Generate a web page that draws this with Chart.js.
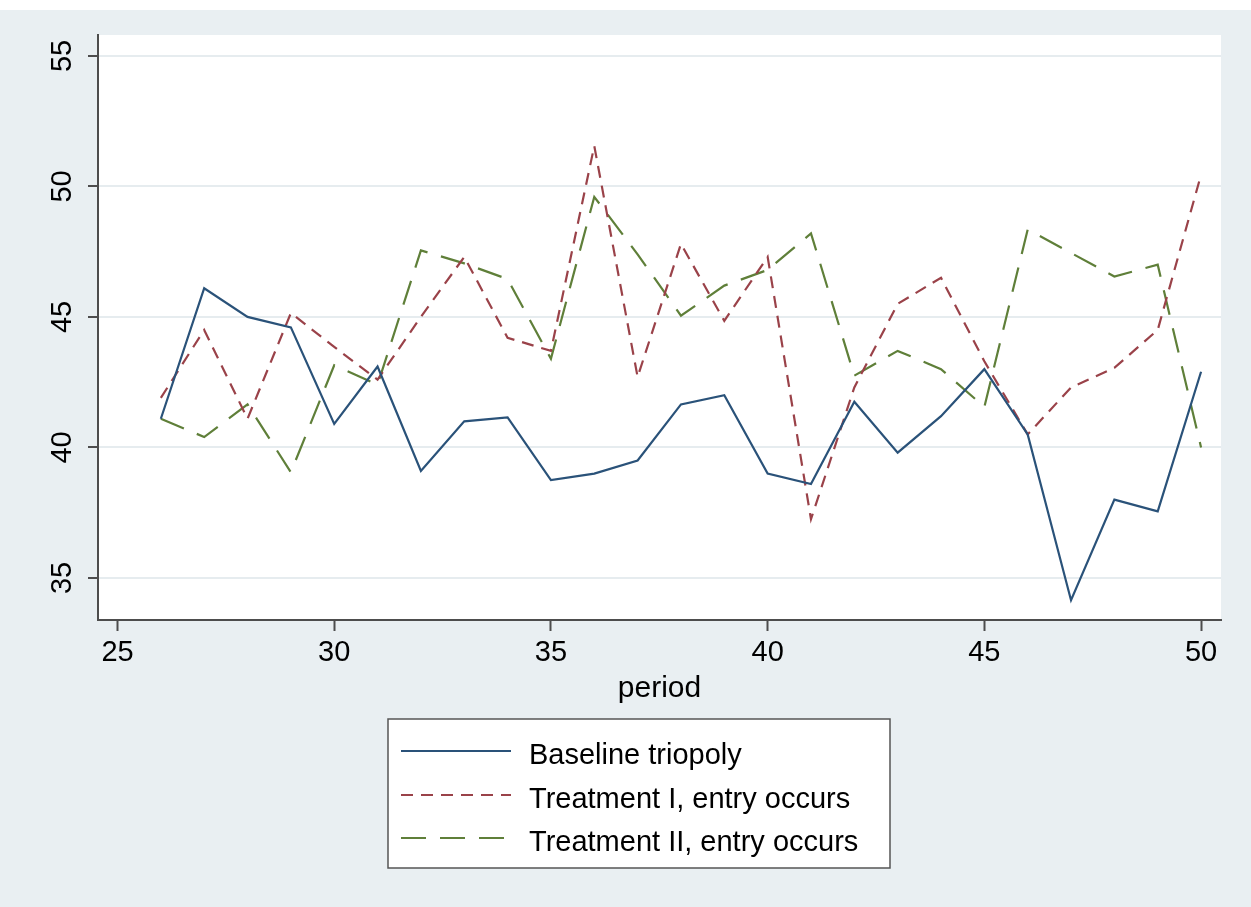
<!DOCTYPE html>
<html>
<head>
<meta charset="utf-8">
<script src="https://cdn.jsdelivr.net/npm/chart.js@4"></script>
<style>
  html, body { margin: 0; padding: 0; background: #ffffff; }
  #wrap { position: absolute; left: 0; top: 10px; width: 1251px; height: 897px; }
  canvas { display: block; }
</style>
</head>
<body>
<div id="wrap"><canvas id="c" width="1251" height="897"></canvas></div>
<script>
const periods = [26,27,28,29,30,31,32,33,34,35,36,37,38,39,40,41,42,43,44,45,46,47,48,49,50];
const baselineTriopoly = [41.1,46.1,45.0,44.6,40.9,43.1,39.1,41.0,41.15,38.75,39.0,39.5,41.65,42.0,39.0,38.6,41.75,39.8,41.2,43.0,40.5,34.15,38.0,37.55,42.9];
const treatmentI = [41.9,44.5,41.1,45.15,43.85,42.6,45.0,47.3,44.2,43.7,51.55,42.7,47.8,44.85,47.3,37.25,42.3,45.5,46.5,43.3,40.5,42.3,43.05,44.5,50.45];
const treatmentII = [41.1,40.4,41.65,39.05,43.15,42.4,47.55,47.05,46.45,43.4,49.6,47.4,45.05,46.2,46.8,48.2,42.75,43.7,43.0,41.55,48.35,47.45,46.55,47.0,40.0];
const seriesLabels = ['Baseline triopoly','Treatment I, entry occurs','Treatment II, entry occurs'];
const xTickValues = [25,30,35,40,45,50];
const yTickValues = [35,40,45,50,55];
const xTitle = 'period';

const FONT = '"Liberation Sans", Arial, Helvetica, sans-serif';
const AXIS_COLOR = '#4d4d4d';
const TEXT_COLOR = '#000000';

function toPoints(arr) { return arr.map((v, i) => ({ x: periods[i], y: v })); }

const bgPlugin = {
  id: 'bg',
  beforeDraw(chart) {
    const { ctx, chartArea: a } = chart;
    ctx.save();
    ctx.fillStyle = '#e9eff2';
    ctx.fillRect(0, 0, chart.width, chart.height);
    ctx.fillStyle = '#ffffff';
    ctx.fillRect(a.left, a.top, a.right - a.left, a.bottom - a.top);
    ctx.restore();
  }
};

const legendPlugin = {
  id: 'boxLegend',
  afterDraw(chart) {
    const ctx = chart.ctx;
    const bx = 388, by = 709, bw = 502, bh = 149;
    ctx.save();
    ctx.fillStyle = '#ffffff';
    ctx.fillRect(bx, by, bw, bh);
    ctx.strokeStyle = '#555555';
    ctx.lineWidth = 1.5;
    ctx.strokeRect(bx, by, bw, bh);
    const baselines = [754, 798, 841];
    chart.data.datasets.forEach((ds, i) => {
      const yb = baselines[i];
      const yl = yb - 13;
      ctx.beginPath();
      ctx.strokeStyle = ds.borderColor;
      ctx.lineWidth = ds.borderWidth;
      ctx.setLineDash(ds.borderDash || []);
      ctx.moveTo(401, yl);
      ctx.lineTo(511, yl);
      ctx.stroke();
      ctx.setLineDash([]);
      ctx.fillStyle = TEXT_COLOR;
      ctx.font = '29px ' + FONT;
      ctx.textBaseline = 'alphabetic';
      ctx.textAlign = 'left';
      ctx.fillText(ds.label, 529, yb);
    });
    ctx.restore();
  }
};

new Chart(document.getElementById('c'), {
  type: 'line',
  data: {
    datasets: [
      { label: seriesLabels[0], data: toPoints(baselineTriopoly), borderColor: '#2a5279', borderWidth: 2.2, borderDash: [], pointRadius: 0, tension: 0, fill: false },
      { label: seriesLabels[1], data: toPoints(treatmentI), borderColor: '#9a4249', borderWidth: 2.2, borderDash: [12, 8], pointRadius: 0, tension: 0, fill: false },
      { label: seriesLabels[2], data: toPoints(treatmentII), borderColor: '#5f7f39', borderWidth: 2.2, borderDash: [25, 14], pointRadius: 0, tension: 0, fill: false }
    ]
  },
  options: {
    responsive: false,
    animation: false,
    devicePixelRatio: 1,
    layout: { padding: { left: 0, right: 30, top: 25, bottom: 0 } },
    plugins: { legend: { display: false }, tooltip: { enabled: false } },
    scales: {
      x: {
        type: 'linear',
        min: 24.55,
        max: 50.46,
        afterBuildTicks: s => { s.ticks = xTickValues.map(v => ({ value: v })); },
        afterFit: s => { s.height = 287; s.paddingLeft = 0; s.paddingRight = 0; },
        grid: { drawOnChartArea: false, drawTicks: true, tickLength: 11, tickColor: AXIS_COLOR, tickWidth: 2 },
        border: { display: true, color: AXIS_COLOR, width: 2 },
        ticks: { color: TEXT_COLOR, font: { family: FONT, size: 29 }, padding: 5, maxRotation: 0, minRotation: 0, autoSkip: false },
        title: { display: true, text: xTitle, color: TEXT_COLOR, font: { family: FONT, size: 30 }, padding: { top: 0, bottom: 200 } }
      },
      y: {
        type: 'linear',
        min: 33.39,
        max: 55.8,
        afterBuildTicks: s => { s.ticks = yTickValues.map(v => ({ value: v })); },
        afterFit: s => { s.width = 98; s.paddingTop = 0; s.paddingBottom = 0; },
        grid: { color: '#e6ecef', lineWidth: 2, drawTicks: true, tickLength: 10, tickColor: AXIS_COLOR, tickWidth: 2 },
        border: { display: true, color: AXIS_COLOR, width: 2 },
        ticks: { color: TEXT_COLOR, font: { family: FONT, size: 29 }, padding: 9, minRotation: 90, maxRotation: 90, crossAlign: 'center', autoSkip: false }
      }
    }
  },
  plugins: [bgPlugin, legendPlugin]
});
</script>
</body>
</html>
